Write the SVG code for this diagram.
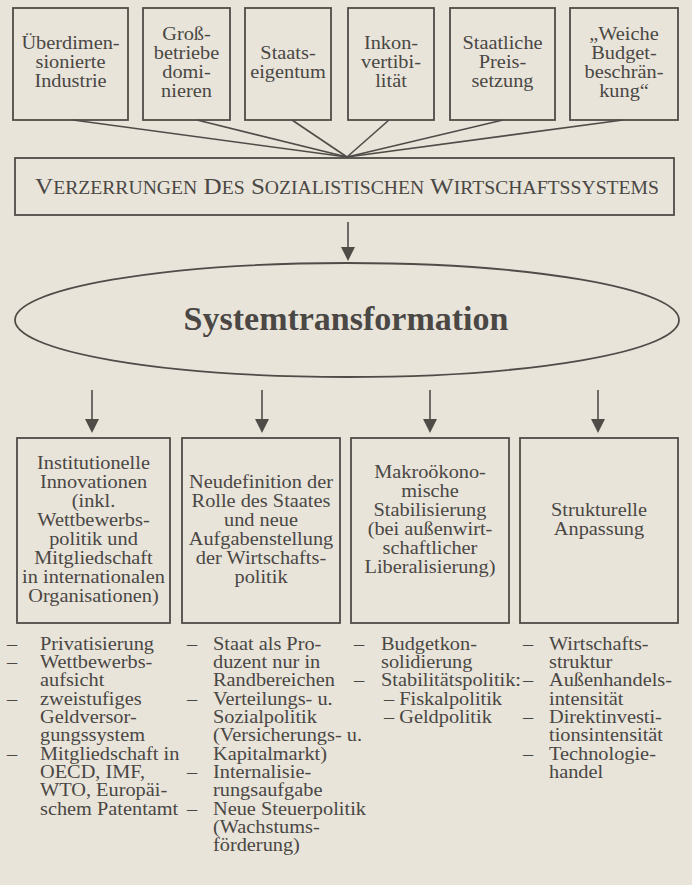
<svg xmlns="http://www.w3.org/2000/svg" width="692" height="885" viewBox="0 0 692 885">
<style>
.bg{fill:#e8e4da}
.box{fill:none;stroke:#4f4c48;stroke-width:1.8}
.ln{fill:none;stroke:#4f4c48;stroke-width:1.6}
.t{font-family:"Liberation Serif","Times New Roman",serif;font-size:18px;fill:#4a4744}
.c{text-anchor:middle}
.title{font-family:"Liberation Serif","Times New Roman",serif;font-size:34px;font-weight:bold;fill:#4a4744;text-anchor:middle}
.sc{font-family:"Liberation Serif","Times New Roman",serif;font-size:23px;fill:#4a4744}
.sm{font-size:18px}
</style>
<defs>
<marker id="ah" markerUnits="userSpaceOnUse" markerWidth="14" markerHeight="13" refX="7" refY="12" orient="auto-start-reverse" viewBox="0 0 14 13">
<path d="M0,0 L14,0 L7,13 Z" fill="#4f4c48" transform="rotate(-90 7 6.5)"/>
</marker>
</defs>
<rect class="bg" x="0" y="0" width="692" height="885"/>

<g id="connectors">
<line class="ln" x1="73" y1="120" x2="347" y2="157"/>
<line class="ln" x1="197" y1="120" x2="347" y2="157"/>
<line class="ln" x1="292" y1="120" x2="347" y2="157"/>
<line class="ln" x1="389" y1="120" x2="347" y2="157"/>
<line class="ln" x1="503" y1="120" x2="347" y2="157"/>
<line class="ln" x1="623" y1="120" x2="347" y2="157"/>
<path class="ln" d="M348,222 V248"/>
<polygon points="341,247 355,247 348,261" fill="#4f4c48"/>
<path class="ln" d="M92,390 V420"/>
<polygon points="85,419 99,419 92,433" fill="#4f4c48"/>
<path class="ln" d="M262,390 V420"/>
<polygon points="255,419 269,419 262,433" fill="#4f4c48"/>
<path class="ln" d="M430,390 V420"/>
<polygon points="423,419 437,419 430,433" fill="#4f4c48"/>
<path class="ln" d="M598,390 V420"/>
<polygon points="591,419 605,419 598,433" fill="#4f4c48"/>
</g>

<g id="n1">
<rect class="box" x="13" y="8" width="115" height="112"/>
<text class="t c" transform="translate(70.5 0) scale(1.13 1)"><tspan x="0" y="49">Überdimen-</tspan><tspan x="0" y="68">sionierte</tspan><tspan x="0" y="87">Industrie</tspan></text>
</g>
<g id="n2">
<rect class="box" x="143" y="8" width="87" height="112"/>
<text class="t c" transform="translate(186.5 0) scale(1.13 1)"><tspan x="0" y="40">Groß-</tspan><tspan x="0" y="59">betriebe</tspan><tspan x="0" y="78">domi-</tspan><tspan x="0" y="97">nieren</tspan></text>
</g>
<g id="n3">
<rect class="box" x="245" y="8" width="86" height="112"/>
<text class="t c" transform="translate(288 0) scale(1.13 1)"><tspan x="0" y="59">Staats-</tspan><tspan x="0" y="78">eigentum</tspan></text>
</g>
<g id="n4">
<rect class="box" x="348" y="8" width="86" height="112"/>
<text class="t c" transform="translate(391 0) scale(1.13 1)"><tspan x="0" y="49">Inkon-</tspan><tspan x="0" y="68">vertibi-</tspan><tspan x="0" y="87">lität</tspan></text>
</g>
<g id="n5">
<rect class="box" x="450" y="8" width="105" height="112"/>
<text class="t c" transform="translate(502.5 0) scale(1.13 1)"><tspan x="0" y="49">Staatliche</tspan><tspan x="0" y="68">Preis-</tspan><tspan x="0" y="87">setzung</tspan></text>
</g>
<g id="n6">
<rect class="box" x="570" y="8" width="108" height="112"/>
<text class="t c" transform="translate(624 0) scale(1.13 1)"><tspan x="0" y="40">„Weiche</tspan><tspan x="0" y="59">Budget-</tspan><tspan x="0" y="78">beschrän-</tspan><tspan x="0" y="97">kung“</tspan></text>
</g>

<g id="verzerrungen">
<rect class="box" x="15" y="158" width="659" height="57"/>
<text class="sc" x="35" y="194" textLength="624" lengthAdjust="spacingAndGlyphs">V<tspan class="sm">ERZERRUNGEN</tspan> D<tspan class="sm">ES</tspan> S<tspan class="sm">OZIALISTISCHEN</tspan> W<tspan class="sm">IRTSCHAFTSSYSTEMS</tspan></text>
</g>

<g id="systemtransformation">
<ellipse class="box" cx="347" cy="320" rx="332" ry="57" stroke-width="1.6"/>
<text class="title" x="346" y="330">Systemtransformation</text>
</g>

<g id="b1">
<rect class="box" x="17" y="438" width="153" height="185"/>
<text class="t c" transform="translate(93.5 0) scale(1.13 1)"><tspan x="0" y="469">Institutionelle</tspan><tspan x="0" y="488">Innovationen</tspan><tspan x="0" y="507">(inkl.</tspan><tspan x="0" y="526">Wettbewerbs-</tspan><tspan x="0" y="545">politik und</tspan><tspan x="0" y="564">Mitgliedschaft</tspan><tspan x="0" y="583">in internationalen</tspan><tspan x="0" y="602">Organisationen)</tspan></text>
</g>
<g id="b2">
<rect class="box" x="182" y="438" width="158" height="185"/>
<text class="t c" transform="translate(261 0) scale(1.13 1)"><tspan x="0" y="488">Neudefinition der</tspan><tspan x="0" y="507">Rolle des Staates</tspan><tspan x="0" y="526">und neue</tspan><tspan x="0" y="545">Aufgabenstellung</tspan><tspan x="0" y="564">der Wirtschafts-</tspan><tspan x="0" y="583">politik</tspan></text>
</g>
<g id="b3">
<rect class="box" x="351" y="438" width="158" height="185"/>
<text class="t c" transform="translate(430 0) scale(1.13 1)"><tspan x="0" y="478">Makroökono-</tspan><tspan x="0" y="497">mische</tspan><tspan x="0" y="516">Stabilisierung</tspan><tspan x="0" y="535">(bei außenwirt-</tspan><tspan x="0" y="554">schaftlicher</tspan><tspan x="0" y="573">Liberalisierung)</tspan></text>
</g>
<g id="b4">
<rect class="box" x="520" y="438" width="158" height="185"/>
<text class="t c" transform="translate(599 0) scale(1.13 1)"><tspan x="0" y="516">Strukturelle</tspan><tspan x="0" y="535">Anpassung</tspan></text>
</g>

<g id="list1">
<text class="t" transform="translate(7 0) scale(1.13 1)"><tspan x="0" y="650">–</tspan><tspan x="0" y="668">–</tspan><tspan x="0" y="705">–</tspan><tspan x="0" y="760">–</tspan></text>
<text class="t" transform="translate(40 0) scale(1.13 1)"><tspan x="0" y="650">Privatisierung</tspan><tspan x="0" y="668">Wettbewerbs-</tspan><tspan x="0" y="686">aufsicht</tspan><tspan x="0" y="705">zweistufiges</tspan><tspan x="0" y="723">Geldversor-</tspan><tspan x="0" y="741">gungssystem</tspan><tspan x="0" y="760">Mitgliedschaft in</tspan><tspan x="0" y="778">OECD, IMF,</tspan><tspan x="0" y="796">WTO, Europäi-</tspan><tspan x="0" y="815">schem Patentamt</tspan></text>
</g>
<g id="list2">
<text class="t" transform="translate(187 0) scale(1.13 1)"><tspan x="0" y="650">–</tspan><tspan x="0" y="705">–</tspan><tspan x="0" y="778">–</tspan><tspan x="0" y="815">–</tspan></text>
<text class="t" transform="translate(213 0) scale(1.13 1)"><tspan x="0" y="650">Staat als Pro-</tspan><tspan x="0" y="668">duzent nur in</tspan><tspan x="0" y="686">Randbereichen</tspan><tspan x="0" y="705">Verteilungs- u.</tspan><tspan x="0" y="723">Sozialpolitik</tspan><tspan x="0" y="741">(Versicherungs- u.</tspan><tspan x="0" y="760">Kapitalmarkt)</tspan><tspan x="0" y="778">Internalisie-</tspan><tspan x="0" y="796">rungsaufgabe</tspan><tspan x="0" y="815">Neue Steuerpolitik</tspan><tspan x="0" y="833">(Wachstums-</tspan><tspan x="0" y="851">förderung)</tspan></text>
</g>
<g id="list3">
<text class="t" transform="translate(354 0) scale(1.13 1)"><tspan x="0" y="650">–</tspan><tspan x="0" y="686">–</tspan></text>
<text class="t" transform="translate(381 0) scale(1.13 1)"><tspan x="0" y="650">Budgetkon-</tspan><tspan x="0" y="668">solidierung</tspan><tspan x="0" y="686">Stabilitätspolitik:</tspan></text>
<text class="t" transform="translate(384 0) scale(1.13 1)"><tspan x="0" y="705">– Fiskalpolitik</tspan><tspan x="0" y="723">– Geldpolitik</tspan></text>
</g>
<g id="list4">
<text class="t" transform="translate(523 0) scale(1.13 1)"><tspan x="0" y="650">–</tspan><tspan x="0" y="686">–</tspan><tspan x="0" y="723">–</tspan><tspan x="0" y="760">–</tspan></text>
<text class="t" transform="translate(549 0) scale(1.13 1)"><tspan x="0" y="650">Wirtschafts-</tspan><tspan x="0" y="668">struktur</tspan><tspan x="0" y="686">Außenhandels-</tspan><tspan x="0" y="705">intensität</tspan><tspan x="0" y="723">Direktinvesti-</tspan><tspan x="0" y="741">tionsintensität</tspan><tspan x="0" y="760">Technologie-</tspan><tspan x="0" y="778">handel</tspan></text>
</g>
</svg>
